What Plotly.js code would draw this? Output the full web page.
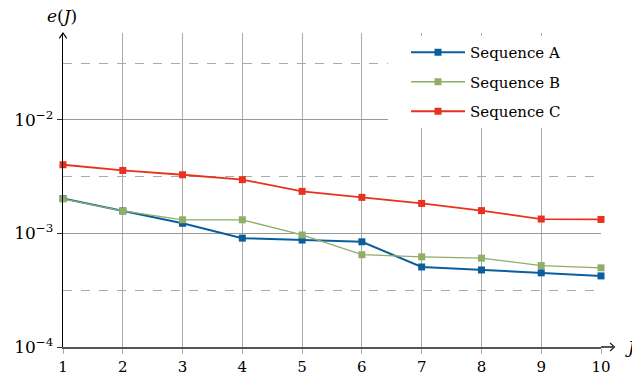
<!DOCTYPE html>
<html>
<head>
<meta charset="utf-8">
<script src="https://cdn.plot.ly/plotly-3.0.1.min.js"></script>
<style>html,body{margin:0;padding:0;background:#fff;}#chart{width:632px;height:376px;}</style>
</head>
<body>
<div id="chart"></div>
<script>
const J = [1, 2, 3, 4, 5, 6, 7, 8, 9, 10];
const seqA = [2.03e-3, 1.58e-3, 1.23e-3, 9.1e-4, 8.75e-4, 8.45e-4, 5.07e-4, 4.77e-4, 4.5e-4, 4.23e-4];
const seqB = [2.02e-3, 1.58e-3, 1.32e-3, 1.32e-3, 9.7e-4, 6.5e-4, 6.22e-4, 6.06e-4, 5.22e-4, 4.98e-4];
const seqC = [4.03e-3, 3.59e-3, 3.29e-3, 2.98e-3, 2.35e-3, 2.08e-3, 1.84e-3, 1.59e-3, 1.34e-3, 1.33e-3];
const seriesNames = ['Sequence A', 'Sequence B', 'Sequence C'];
const yTickVals = [1e-4, 1e-3, 1e-2];
const yTickText = ['10<sup>−4</sup>', '10<sup>−3</sup>', '10<sup>−2</sup>'];
const yMinorVals = [Math.pow(10, -3.5), Math.pow(10, -2.5), Math.pow(10, -1.5)];

const FONT = 'DejaVu Serif';
const colors = ['#0a5e9e', '#8fae67', '#e8321f'];
const widths = [2, 1.3, 1.8];
const series = [seqA, seqB, seqC];

const traces = series.map((s, i) => ({
  x: J, y: s, name: seriesNames[i], type: 'scatter', mode: 'lines+markers',
  line: {color: colors[i], width: widths[i]},
  marker: {symbol: 'square', size: 7, color: colors[i]},
  cliponaxis: false, legendgroup: 'g' + i
}));

// plot area geometry (pixels) for decorations
const W = 632, H = 376, ml = 63, mr = 31, mt = 33, mb = 29;
const pw = W - ml - mr, ph = H - mt - mb;
const px = v => (v - ml) / pw;          // pixel x -> paper x
const py = v => (H - mb - v) / ph;      // pixel y -> paper y

const layout = {
  width: W, height: H,
  margin: {l: ml, r: mr, t: mt, b: mb, pad: 0},
  paper_bgcolor: '#fff', plot_bgcolor: '#fff',
  font: {family: FONT, size: 15, color: '#000'},
  showlegend: true,
  legend: {
    x: px(406), xanchor: 'left', y: py(36), yanchor: 'top',
    bgcolor: '#fff', borderwidth: 0, font: {family: FONT, size: 15},
    tracegroupgap: 7, itemwidth: 54
  },
  xaxis: {
    range: [1, 10], tickvals: J, ticktext: J.map(String),
    showgrid: true, gridcolor: '#aaa', gridwidth: 1,
    showline: true, linecolor: '#555', linewidth: 2,
    ticks: 'outside', ticklen: 5, tickcolor: '#aaa', tickwidth: 1,
    zeroline: false, tickfont: {family: FONT, size: 15}
  },
  yaxis: {
    type: 'log', range: [-4, -1.234],
    tickvals: yTickVals, ticktext: yTickText,
    showgrid: true, gridcolor: '#999', gridwidth: 1,
    showline: true, linecolor: '#000', linewidth: 1.3,
    ticks: 'outside', ticklen: 5, tickcolor: '#333', tickwidth: 1,
    zeroline: false, tickfont: {family: FONT, size: 17},
    minor: {tickvals: yMinorVals, showgrid: true, griddash: 'dash', gridcolor: '#aaa', gridwidth: 1, ticks: ''}
  },
  shapes: [
    {type: 'rect', xref: 'paper', yref: 'paper', layer: 'above',
     x0: px(388), x1: px(606), y0: py(121), y1: py(37),
     fillcolor: '#fff', line: {width: 0}},
    {type: 'line', xref: 'paper', yref: 'paper', x0: 1, x1: px(613), y0: 0, y1: 0, line: {color: '#555', width: 2}},
    {type: 'path', xref: 'paper', yref: 'paper',
     path: `M${px(610)},${py(343)} L${px(614.5)},${py(347)} L${px(610)},${py(351)}`,
     line: {color: '#222', width: 1.2}},
    {type: 'path', xref: 'paper', yref: 'paper',
     path: `M${px(59.3)},${py(38.3)} L${px(63)},${py(33)} L${px(66.7)},${py(38.3)}`,
     line: {color: '#000', width: 1.2}}
  ],
  annotations: [
    {xref: 'paper', yref: 'paper', x: px(62), y: py(16), text: '<i>e</i>(<i>J</i>)', showarrow: false,
     xanchor: 'center', yanchor: 'middle', font: {family: FONT, size: 17}},
    {xref: 'paper', yref: 'paper', x: px(623), y: py(347), text: '<i>J</i>', showarrow: false,
     xanchor: 'left', yanchor: 'middle', font: {family: FONT, size: 17}}
  ]
};

Plotly.newPlot('chart', traces, layout, {displayModeBar: false, staticPlot: true});
</script>
</body>
</html>
